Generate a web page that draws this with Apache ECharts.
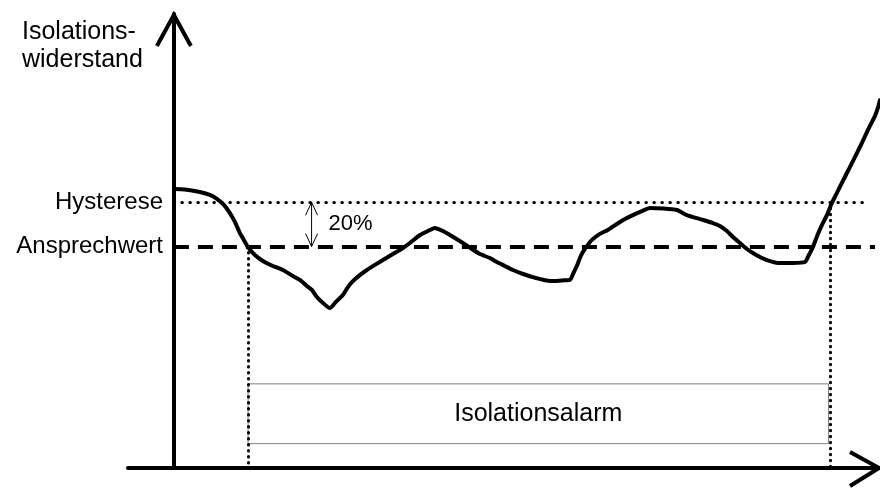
<!DOCTYPE html>
<html>
<head>
<meta charset="utf-8">
<script src="https://cdn.jsdelivr.net/npm/echarts@6/dist/echarts.min.js"></script>
<style>
  html, body { margin: 0; padding: 0; background: #fff; }
  #chart { width: 880px; height: 491px; }
</style>
</head>
<body>
<div id="chart"></div>
<script>
// Zeitachse (willkürliche Einheiten 0..100) und Verlauf des Isolationswiderstands
var zeit = [0, 1.56, 3.68, 5.10, 6.09, 7.08, 7.93, 8.64, 9.35, 9.91,
  10.48, 11.47, 12.60, 14.02, 15.44, 16.85, 17.84, 18.84, 19.54, 20.25,
  20.96, 22.09, 22.94, 23.93, 24.64, 25.35, 26.34, 27.33, 28.47, 29.60,
  31.02, 32.43, 33.42, 34.84, 35.97, 36.96, 38.10, 39.09, 40.93, 42.20,
  43.34, 44.75, 45.74, 46.88, 48.01, 49.43, 50.84, 52.12, 53.53, 54.95,
  56.08, 56.65, 57.07, 57.50, 57.92, 58.49, 59.20, 60.33, 61.46, 62.74,
  63.87, 65.00, 66.28, 67.41, 69.25, 71.24, 72.65, 74.49, 76.33, 77.33,
  78.32, 79.17, 80.16, 81.15, 82.00, 82.99, 83.98, 85.54, 87.66, 89.36,
  89.93, 90.50, 91.21, 91.77, 92.48, 93.19, 93.90, 94.60, 95.31, 96.02,
  96.73, 97.44, 98.15, 98.71, 99.28, 99.70, 100];
var widerstand = [126.0, 125.8, 124.6, 123.3, 121.5, 118.8, 115.1, 111.1, 106.1, 103.0,
  99.8, 96.2, 93.5, 91.2, 89.4, 86.7, 84.9, 82.2, 80.4, 77.2,
  75.0, 72.2, 75.0, 78.1, 81.7, 84.4, 87.1, 89.4, 91.7, 93.9,
  96.6, 99.3, 101.6, 105.2, 107.0, 108.4, 107.0, 105.2, 101.6, 98.9,
  96.6, 94.8, 93.0, 91.2, 89.4, 87.6, 86.2, 85.1, 84.4, 84.7,
  84.9, 88.5, 91.2, 94.8, 97.5, 100.2, 103.0, 105.7, 107.5, 110.2,
  112.4, 114.2, 116.0, 117.4, 117.2, 116.5, 114.2, 112.4, 110.6, 109.3,
  107.0, 104.3, 101.6, 98.9, 97.1, 95.3, 93.9, 92.6, 92.6, 93.0,
  96.2, 99.8, 105.7, 109.7, 114.2, 119.7, 124.2, 128.7, 133.2, 137.7,
  142.2, 146.8, 151.7, 155.3, 158.9, 162.6, 166.2];

// Schwellen: Hysterese liegt 20 % über dem Ansprechwert
var schwellen = ["Ansprechwert", "Hysterese"];
var schwellWerte = [100, 120];
var ansprechwert = schwellWerte[0];
var hysterese = schwellWerte[1];

// Alarmzeitraum
var alarmStart = 10.5;
var alarmEnde = 93.0;
var alarmText = "Isolationsalarm";
var pfeilZeit = 19.5;

var font = "Liberation Sans, Arial, sans-serif";

var chart = echarts.init(document.getElementById("chart"));

var kurve = zeit.map(function (t, i) { return [t, widerstand[i]]; });

chart.setOption({
  animation: false,
  textStyle: { fontFamily: font },
  title: {
    text: "Isolations-\nwiderstand",
    left: 22,
    top: 18,
    padding: 0,
    textStyle: { fontFamily: font, fontSize: 25, fontWeight: "normal", color: "#000", lineHeight: 28 }
  },
  grid: { left: 128, right: 0, top: 14, bottom: 23, containLabel: false, outerBoundsMode: "none" },
  xAxis: {
    type: "value",
    min: -6.5,
    max: 100,
    axisLine: { onZero: true, lineStyle: { color: "#000", width: 4 } },
    axisTick: { show: false },
    axisLabel: { show: false },
    splitLine: { show: false }
  },
  yAxis: {
    type: "value",
    min: 0,
    max: 205,
    axisLine: { show: true, onZero: true, lineStyle: { color: "#000", width: 4 } },
    axisTick: { show: false },
    splitLine: { show: false },
    axisLabel: {
      customValues: schwellWerte,
      formatter: function (v) {
        var i = schwellWerte.indexOf(v);
        return i >= 0 ? schwellen[i] : "";
      },
      fontFamily: font,
      fontSize: 24,
      color: "#000",
      margin: -35
    }
  },
  series: [
    {
      type: "line",
      data: kurve,
      showSymbol: false,
      smooth: 0.2,
      silent: true,
      lineStyle: { color: "#000", width: 4, join: "round", cap: "round" },
      markLine: {
        silent: true,
        symbol: "none",
        label: { show: false },
        data: [
          [
            { coord: [0, hysterese], lineStyle: { color: "#000", width: 3, type: [0.5, 7.5], cap: "round" } },
            { coord: [97.9, hysterese] }
          ],
          [
            { coord: [0, ansprechwert], lineStyle: { color: "#000", width: 4, type: [15, 9], cap: "butt" } },
            { coord: [99.3, ansprechwert] }
          ],
          [
            { coord: [alarmStart, ansprechwert], lineStyle: { color: "#000", width: 3, type: [0.5, 5.5], cap: "round" } },
            { coord: [alarmStart, 0] }
          ],
          [
            { coord: [alarmEnde, hysterese], lineStyle: { color: "#000", width: 3, type: [0.5, 5.5], cap: "round" } },
            { coord: [alarmEnde, 0] }
          ]
        ]
      },
      markArea: {
        silent: true,
        itemStyle: { color: "rgba(0,0,0,0)", borderColor: "#808080", borderWidth: 1 },
        label: {
          show: true,
          position: "inside",
          color: "#000",
          fontFamily: font,
          fontSize: 25
        },
        data: [
          [
            { name: alarmText, xAxis: alarmStart, yAxis: 38 },
            { xAxis: alarmEnde - 0.3, yAxis: 11 }
          ]
        ]
      }
    }
  ]
});

function px(p) { return chart.convertToPixel({ gridIndex: 0 }, p); }

var yTop = px([0, 205]);
var xEnd = px([100, 0]);
var pOben = px([pfeilZeit, hysterese]);
var pUnten = px([pfeilZeit, ansprechwert]);

var dick = { stroke: "#000", lineWidth: 4, fill: null, lineJoin: "miter" };
var duenn = { stroke: "#000", lineWidth: 1, fill: null };

chart.setOption({
  graphic: [
    {
      type: "polyline",
      silent: true,
      shape: { points: [[yTop[0] - 17, yTop[1] + 32], [yTop[0], yTop[1] + 1], [yTop[0] + 17, yTop[1] + 32]] },
      style: dick
    },
    {
      type: "polyline",
      silent: true,
      shape: { points: [[xEnd[0] - 30, xEnd[1] - 16], [xEnd[0] - 1, xEnd[1]], [xEnd[0] - 30, xEnd[1] + 18]] },
      style: dick
    },
    {
      type: "polyline",
      silent: true,
      shape: { points: [[pOben[0], pOben[1]], [pUnten[0], pUnten[1]]] },
      style: duenn
    },
    {
      type: "polyline",
      silent: true,
      shape: { points: [[pOben[0] - 6, pOben[1] + 13], [pOben[0], pOben[1]], [pOben[0] + 6, pOben[1] + 13]] },
      style: duenn
    },
    {
      type: "polyline",
      silent: true,
      shape: { points: [[pUnten[0] - 6, pUnten[1] - 13], [pUnten[0], pUnten[1]], [pUnten[0] + 6, pUnten[1] - 13]] },
      style: duenn
    },
    {
      type: "text",
      silent: true,
      x: pOben[0] + 17,
      y: (pOben[1] + pUnten[1]) / 2,
      style: {
        text: "20%",
        fontFamily: font,
        fontSize: 22,
        fill: "#000",
        verticalAlign: "middle"
      }
    }
  ]
});

window.addEventListener("resize", function () { chart.resize(); });
</script>
</body>
</html>
